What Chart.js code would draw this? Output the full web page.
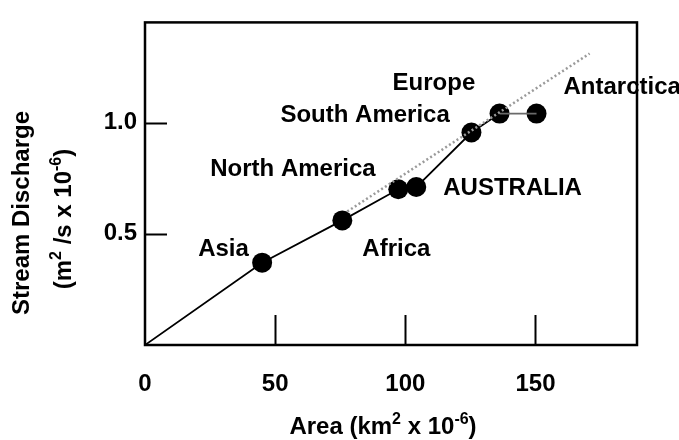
<!DOCTYPE html>
<html><head><meta charset="utf-8">
<script src="https://cdn.jsdelivr.net/npm/chart.js@4"></script>
<style>html,body{margin:0;padding:0;background:#fff}#wrap{width:679px;height:440px;position:relative}</style>
</head><body><div id="wrap"><canvas id="c"></canvas></div>
<script>
// ---- data ----
const continents = ["Asia", "Africa", "North America", "AUSTRALIA", "South America", "Europe", "Antarctica"];
const areaValues = [45.0, 75.8, 97.3, 104.2, 125.4, 136.2, 150.4];      // km² x 10^-6
const dischargeValues = [0.37, 0.56, 0.70, 0.71, 0.955, 1.04, 1.04];   // m²/s x 10^-6
const originArea = [0];
const originDischarge = [0];
const trendArea = [77.7, 170.8];
const trendDischarge = [0.60, 1.31];
const xTickValues = [0, 50, 100, 150];
const xTickLabels = ["0", "50", "100", "150"];
const yTickValues = [0.5, 1.0];
const yTickLabels = ["0.5", "1.0"];

// ---- styling ----
const FONT = '"Liberation Sans", Arial, Helvetica, sans-serif';
// label offsets (px) relative to each point: [dx to text left, dy to baseline]
const labelOffsets = [[-64, -7], [20, 36], [-188, -13], [27, 8], [-191, -11], [-107, -24], [27, -20]];

const linePoints = originArea.map((a, i) => ({x: a, y: originDischarge[i]}))
  .concat(areaValues.map((a, i) => ({x: a, y: dischargeValues[i]})));
const pointData = areaValues.map((a, i) => ({x: a, y: dischargeValues[i]}));
const trendData = trendArea.map((a, i) => ({x: a, y: trendDischarge[i]}));
const greySegmentStart = linePoints.length - 2;

const framePlugin = {
  id: 'frame',
  beforeDatasetsDraw(chart) {
    const {ctx, chartArea: a, scales: {x, y}} = chart;
    ctx.save();
    ctx.strokeStyle = '#000';
    ctx.lineWidth = 2.5;
    ctx.strokeRect(a.left, a.top, a.right - a.left, a.bottom - a.top);
    ctx.lineWidth = 2;
    ctx.beginPath();
    xTickValues.filter(v => v > 0).forEach(v => {
      const px = Math.round(x.getPixelForValue(v)) + 0.5;
      ctx.moveTo(px, a.bottom); ctx.lineTo(px, a.bottom - 30);
    });
    yTickValues.forEach(v => {
      const py = Math.round(y.getPixelForValue(v)) + 0.5;
      ctx.moveTo(a.left, py); ctx.lineTo(a.left + 22, py);
    });
    ctx.stroke();
    ctx.restore();
  },
  afterDatasetsDraw(chart) {
    const {ctx} = chart;
    const meta = chart.getDatasetMeta(2);
    ctx.save();
    ctx.fillStyle = '#000';
    ctx.font = 'bold 24px ' + FONT;
    ctx.textAlign = 'left';
    ctx.textBaseline = 'alphabetic';
    meta.data.forEach((pt, i) => {
      const [dx, dy] = labelOffsets[i];
      ctx.fillText(continents[i], pt.x + dx, pt.y + dy);
    });
    ctx.restore();
  },
  afterDraw(chart) {
    const {ctx} = chart;
    function rich(parts, cx, baseY) {
      let total = 0;
      parts.forEach(p => { ctx.font = (p.sup ? 'bold 16px ' : 'bold 24px ') + FONT; p.w = ctx.measureText(p.t).width; total += p.w; });
      let xx = cx - total / 2;
      parts.forEach(p => {
        ctx.font = (p.sup ? 'bold 16px ' : 'bold 24px ') + FONT;
        ctx.fillText(p.t, xx, baseY - (p.sup ? 10 : 0));
        xx += p.w;
      });
    }
    ctx.save();
    ctx.fillStyle = '#000';
    ctx.textBaseline = 'alphabetic';
    ctx.textAlign = 'left';
    rich([{t: 'Area (km'}, {t: '2', sup: true}, {t: ' x 10'}, {t: '-6', sup: true}, {t: ')'}], 383, 434);
    ctx.save();
    ctx.translate(29, 213);
    ctx.rotate(-Math.PI / 2);
    rich([{t: 'Stream Discharge'}], 0, 0);
    ctx.restore();
    ctx.save();
    ctx.translate(71, 219);
    ctx.rotate(-Math.PI / 2);
    rich([{t: '(m'}, {t: '2', sup: true}, {t: ' /s x 10'}, {t: '-6', sup: true}, {t: ')'}], 0, 0);
    ctx.restore();
    ctx.restore();
  }
};

new Chart(document.getElementById('c'), {
  type: 'scatter',
  data: {
    datasets: [
      {
        type: 'line', data: trendData, borderColor: '#9a9a9a', borderWidth: 2.5,
        borderDash: [2, 2.5], pointRadius: 0, fill: false
      },
      {
        type: 'line', data: linePoints, borderColor: '#000', borderWidth: 1.8,
        pointRadius: 0, fill: false, tension: 0,
        segment: { borderColor: c => c.p0DataIndex === greySegmentStart ? '#6a6a6a' : '#000' }
      },
      {
        data: pointData, backgroundColor: '#000', borderColor: '#000',
        pointRadius: 10, pointHoverRadius: 10, borderWidth: 0
      }
    ]
  },
  options: {
    responsive: true, maintainAspectRatio: false, animation: false,
    events: [],
    layout: { padding: { top: 20, right: 42, left: 0, bottom: 0 } },
    plugins: { legend: { display: false }, tooltip: { enabled: false } },
    scales: {
      x: {
        type: 'linear', min: 0, max: 189,
        afterBuildTicks: s => { s.ticks = xTickValues.map(v => ({value: v})); },
        afterFit: s => { s.height = 95; },
        grid: { display: false, drawTicks: false },
        border: { display: false },
        ticks: {
          padding: 25, color: '#000', maxRotation: 0, autoSkip: false,
          font: { family: FONT, size: 24, weight: 'bold' },
          callback: v => xTickLabels[xTickValues.indexOf(v)]
        }
      },
      y: {
        type: 'linear', min: 0, max: 1.45,
        afterBuildTicks: s => { s.ticks = yTickValues.map(v => ({value: v})); },
        afterFit: s => { s.width = 145; },
        grid: { display: false, drawTicks: false },
        border: { display: false },
        ticks: {
          padding: 8, color: '#000', autoSkip: false,
          font: { family: FONT, size: 24, weight: 'bold' },
          callback: v => yTickLabels[yTickValues.indexOf(v)]
        }
      }
    }
  },
  plugins: [framePlugin]
});
</script>
</body></html>
